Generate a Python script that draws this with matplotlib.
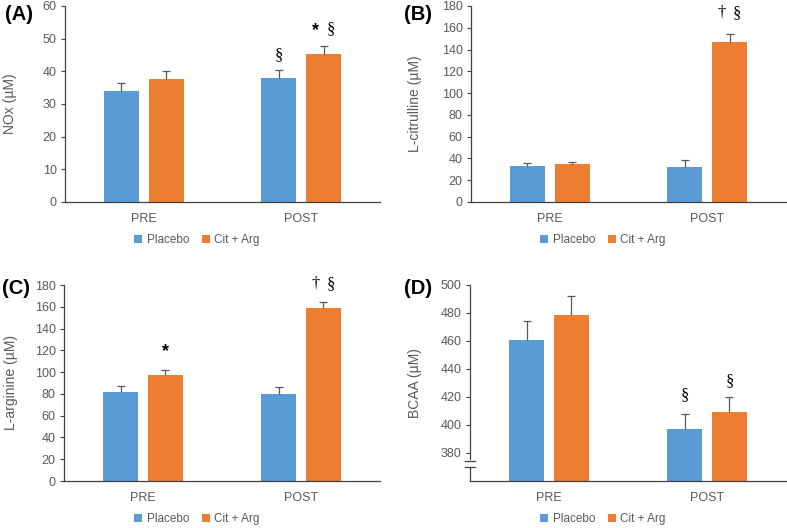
import matplotlib.pyplot as plt
import numpy as np

plt.rcParams['font.family'] = ['Liberation Sans', 'DejaVu Sans']

groups = ['PRE', 'POST']
series = ['Placebo', 'Cit + Arg']
colors = ['#5B9BD5', '#ED7D31']

# mean values and upper error (SE)
nox_placebo = [34.1, 37.9]
nox_citarg = [37.7, 45.2]
nox_placebo_err = [2.2, 2.4]
nox_citarg_err = [2.4, 2.5]

cit_placebo = [33.4, 31.8]
cit_citarg = [34.9, 146.9]
cit_placebo_err = [2.1, 6.5]
cit_citarg_err = [1.8, 7.7]

arg_placebo = [81.7, 79.6]
arg_citarg = [97.0, 158.6]
arg_placebo_err = [5.5, 6.4]
arg_citarg_err = [5.2, 6.1]

bcaa_placebo = [460.5, 397.4]
bcaa_citarg = [478.6, 409.2]
bcaa_placebo_err = [13.8, 10.6]
bcaa_citarg_err = [13.8, 10.8]

W, H = 787, 528
fig = plt.figure(figsize=(W / 100, H / 100), dpi=100)


def add_panel(left, right, top, bottom):
    return fig.add_axes([left / W, 1 - bottom / H, (right - left) / W, (bottom - top) / H])


def draw(ax, placebo, citarg, perr, cerr, ylim, yticks, ylabel, letter, letter_xy,
         ylabel_x, legend_xy):
    x = np.arange(len(groups))
    w = 0.222
    off = 0.142
    ax.bar(x - off, placebo, w, color=colors[0], label=series[0], zorder=2)
    ax.bar(x + off, citarg, w, color=colors[1], label=series[1], zorder=2)
    # upper-only error bars with a single cap
    for xs, vals, errs in [(x - off, placebo, perr), (x + off, citarg, cerr)]:
        tops = np.array(vals) + np.array(errs)
        ax.vlines(xs, vals, tops, color='#595959', lw=0.9, zorder=3)
        ax.plot(xs, tops, ls='none', marker='_', ms=6, mew=0.9, color='#595959', zorder=3)
    ax.set_xlim(-0.5, 1.5)
    ax.set_ylim(*ylim)
    ax.set_yticks(yticks)
    ax.set_xticks(x)
    ax.set_xticklabels(groups)
    for s in ['top', 'right']:
        ax.spines[s].set_visible(False)
    for s in ['left', 'bottom']:
        ax.spines[s].set_color('#404040')
        ax.spines[s].set_linewidth(0.9)
    ax.tick_params(axis='y', length=3, width=0.8, color='#404040',
                   labelsize=9, labelcolor='#595959', pad=3)
    ax.tick_params(axis='x', length=0, labelsize=9, labelcolor='#595959', pad=8)
    ax.set_ylabel(ylabel, fontsize=10, color='#595959')
    pos = ax.get_position()
    ax.yaxis.set_label_coords((ylabel_x / W - pos.x0) / pos.width, 0.5)
    fig.text(letter_xy[0] / W, 1 - letter_xy[1] / H, letter, fontsize=14.5,
             fontweight='bold', ha='center', va='center')
    ax.legend(loc='center', bbox_to_anchor=(legend_xy[0] / W, 1 - legend_xy[1] / H),
              bbox_transform=fig.transFigure, ncol=2, frameon=False, fontsize=8.5,
              handlelength=0.7, handleheight=0.7, handletextpad=0.35,
              columnspacing=1.1, labelcolor='#595959')
    return x, off


def mark(ax, x, y, s, serif=False, dx=0):
    fam = ['Liberation Serif', 'DejaVu Serif'] if serif else ['Liberation Sans', 'DejaVu Sans']
    ax.annotate(s, (x, y), xytext=(dx, 0), textcoords='offset points',
                ha='center', va='center', fontsize=12 if serif else 13, family=fam,
                fontweight='normal' if serif else 'bold', annotation_clip=False)


# (A) NOx
axA = add_panel(65, 380, 6, 202)
x, off = draw(axA, nox_placebo, nox_citarg, nox_placebo_err, nox_citarg_err,
              (0, 60), range(0, 61, 10), 'NOx (µM)', '(A)', (19, 14), 17, (197, 240))
mark(axA, x[1] - off, 45.0, '§', serif=True)
mark(axA, x[1] + off, 52.5, '*', dx=-5.5)
mark(axA, x[1] + off, 53.0, '§', serif=True, dx=5.5)

# (B) L-citrulline
axB = add_panel(471, 786, 6, 202)
x, off = draw(axB, cit_placebo, cit_citarg, cit_placebo_err, cit_citarg_err,
              (0, 180), range(0, 181, 20), 'L-citrulline (µM)', '(B)', (418, 14), 422,
              (603, 240))
mark(axB, x[1] + off, 173.6, '†', serif=True, dx=-5.5)
mark(axB, x[1] + off, 173.6, '§', serif=True, dx=5.5)

# (C) L-arginine
axC = add_panel(64, 380, 285, 481)
x, off = draw(axC, arg_placebo, arg_citarg, arg_placebo_err, arg_citarg_err,
              (0, 180), range(0, 181, 20), 'L-arginine (µM)', '(C)', (16, 289), 18,
              (197, 519))
mark(axC, x[0] + off, 118.5, '*')
mark(axC, x[1] + off, 181.0, '†', serif=True, dx=-5.5)
mark(axC, x[1] + off, 181.0, '§', serif=True, dx=5.5)

# (D) BCAA, axis starts at 360 with a break mark
axD = add_panel(470, 786, 285, 481)
x, off = draw(axD, bcaa_placebo, bcaa_citarg, bcaa_placebo_err, bcaa_citarg_err,
              (360, 500), range(380, 501, 20), 'BCAA (µM)', '(D)', (418, 289), 422,
              (603, 519))
mark(axD, x[1] - off, 421.6, '§', serif=True)
mark(axD, x[1] + off, 431.6, '§', serif=True)
axD.plot([0, 0], [370.6, 374.1], transform=axD.get_yaxis_transform(),
         color='white', lw=2, clip_on=False, zorder=5)
for yb in [370.2, 374.5]:
    axD.plot([-0.016, 0.016], [yb, yb], transform=axD.get_yaxis_transform(),
             color='#404040', lw=0.9, clip_on=False, zorder=6)

fig.savefig('out.png', dpi=100)
